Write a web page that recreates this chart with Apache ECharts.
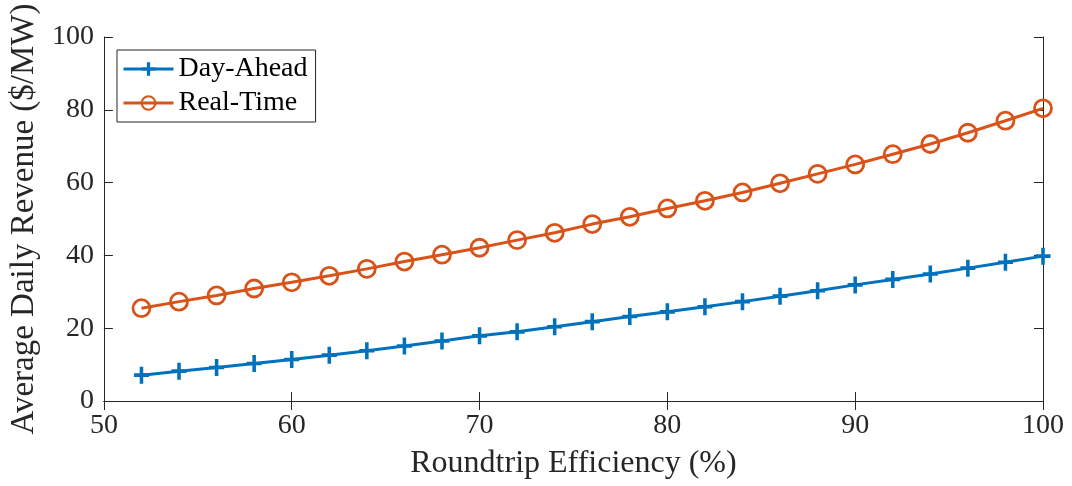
<!DOCTYPE html>
<html>
<head>
<meta charset="utf-8">
<script src="https://cdn.jsdelivr.net/npm/echarts@6/dist/echarts.min.js"></script>
<style>
html,body{margin:0;padding:0;background:#fff;}
#chart{width:1072px;height:486px;}
</style>
</head>
<body>
<div id="chart"></div>
<script>
const efficiency = [52,54,56,58,60,62,64,66,68,70,72,74,76,78,80,82,84,86,88,90,92,94,96,98,100];
const dayAhead = [7.1,8.2,9.2,10.3,11.4,12.6,13.8,15.1,16.5,17.9,19.0,20.4,21.8,23.2,24.5,25.9,27.3,28.8,30.3,31.9,33.4,34.9,36.5,38.1,39.8];
const realTime = [25.5,27.3,29.0,30.9,32.6,34.4,36.3,38.3,40.2,42.1,44.2,46.2,48.6,50.6,52.9,55.0,57.3,59.8,62.4,65.0,67.8,70.6,73.7,77.0,80.4];
const seriesNames = ['Day-Ahead','Real-Time'];
const xTitle = 'Roundtrip Efficiency (%)';
const yTitle = 'Average Daily Revenue ($/MW)';

const FONT = 'Liberation Serif';
const AX = '#262626';
const plusPath = 'path://M-1.9,-8H1.9V-1.7H8V1.7H1.9V8H-1.9V1.7H-8V-1.7H-1.9Z';

const chart = echarts.init(document.getElementById('chart'), null, {renderer:'canvas'});
const baseX = {
  type:'value', min:50, max:100, interval:10,
  axisLine:{show:true, lineStyle:{color:AX, width:1}},
  axisTick:{show:true, inside:true, length:9, lineStyle:{color:AX, width:1}},
  splitLine:{show:false}
};
const baseY = {
  type:'value', min:0, max:100, interval:20,
  axisLine:{show:true, lineStyle:{color:AX, width:1}},
  axisTick:{show:true, inside:true, length:9, lineStyle:{color:AX, width:1}},
  splitLine:{show:false}
};
chart.setOption({
  backgroundColor:'#fff',
  animation:false,
  grid:{left:102, right:29, top:37, bottom:85},
  legend:{
    left:117, top:50, orient:'vertical',
    data:seriesNames,
    itemWidth:50, itemHeight:17, itemGap:6,
    padding:[5,8,5,5],
    borderColor:AX, borderWidth:1, backgroundColor:'#fff',
    lineStyle:{width:3},
    textStyle:{fontFamily:FONT, fontSize:28, color:'#000', padding:[0,0,0,0]}
  },
  xAxis:[
    Object.assign({}, baseX, {
      position:'bottom',
      axisLabel:{fontFamily:FONT, fontSize:28, color:AX, margin:11},
      name:xTitle, nameLocation:'middle', nameGap:47,
      nameTextStyle:{fontFamily:FONT, fontSize:32, color:AX}
    }),
    Object.assign({}, baseX, {position:'top', axisLabel:{show:false}})
  ],
  yAxis:[
    Object.assign({}, baseY, {
      position:'left',
      axisLabel:{fontFamily:FONT, fontSize:28, color:AX, margin:10},
      name:yTitle, nameLocation:'middle', nameGap:62,
      nameTextStyle:{fontFamily:FONT, fontSize:33, color:AX}
    }),
    Object.assign({}, baseY, {position:'right', axisLabel:{show:false}})
  ],
  series:[
    {
      name:seriesNames[0], type:'line', xAxisIndex:0, yAxisIndex:0,
      data:efficiency.map((x,i)=>[x, dayAhead[i]]),
      symbol:plusPath, symbolSize:[15,17], showAllSymbol:true,
      lineStyle:{color:'#0072BD', width:3},
      itemStyle:{color:'#0072BD', borderWidth:0},
      z:3
    },
    {
      name:seriesNames[1], type:'line', xAxisIndex:0, yAxisIndex:0,
      data:efficiency.map((x,i)=>[x, realTime[i]]),
      symbol:'circle', symbolSize:17, showAllSymbol:true,
      lineStyle:{color:'#D95319', width:3},
      itemStyle:{color:'rgba(255,255,255,0)', borderColor:'#D95319', borderWidth:2.8},
      z:3
    }
  ]
});
</script>
</body>
</html>
